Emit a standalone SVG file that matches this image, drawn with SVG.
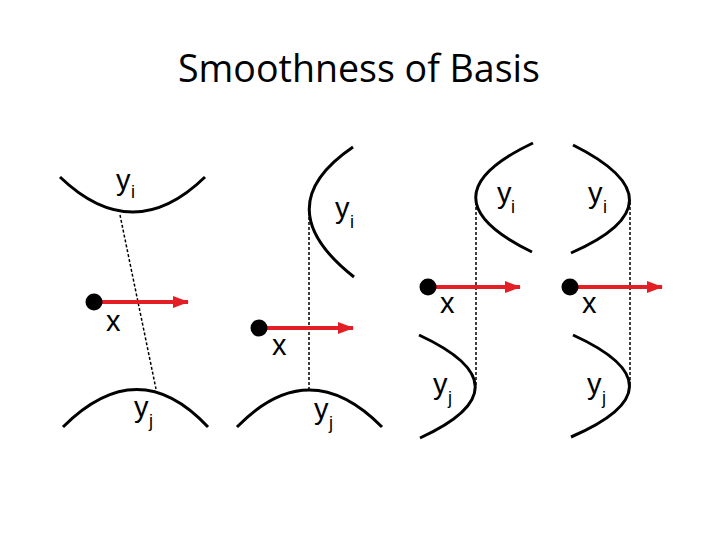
<svg xmlns="http://www.w3.org/2000/svg" width="720" height="540" viewBox="0 0 720 540">
<style>
.t{font-family:"Liberation Sans",Arial,sans-serif;font-size:29px;fill:#000}
.s{font-family:"Liberation Sans",Arial,sans-serif;font-size:18px;fill:#000}
.title{font-family:"Open Sans","Liberation Sans",sans-serif;font-size:38px;fill:#000}
.curve{fill:none;stroke:#000;stroke-width:3}
.dot{stroke:#000;stroke-width:1.5;stroke-dasharray:3 2;fill:none}
.arr{stroke:#e31e24;stroke-width:4;fill:none}
</style>
<defs>
<marker id="ah" markerWidth="16" markerHeight="14" refX="15" refY="7" orient="auto" markerUnits="userSpaceOnUse">
<path d="M0,1 L16,7 L0,13 Z" fill="#e31e24"/>
</marker>
</defs>
<rect width="720" height="540" fill="#fff"/>
<text class="title" x="359" y="82" text-anchor="middle" textLength="362" lengthAdjust="spacingAndGlyphs">Smoothness of Basis</text>

<g id="connectors">
<line class="dot" x1="120" y1="215" x2="156" y2="389"/>
<line class="dot" x1="309" y1="207" x2="309" y2="390"/>
<line class="dot" x1="476" y1="197" x2="476" y2="387"/>
<line class="dot" x1="630" y1="202" x2="630" y2="387"/>
<line class="arr" x1="94" y1="302" x2="188" y2="302" marker-end="url(#ah)"/>
<line class="arr" x1="259" y1="328" x2="353" y2="328" marker-end="url(#ah)"/>
<line class="arr" x1="428" y1="287" x2="520" y2="287" marker-end="url(#ah)"/>
<line class="arr" x1="570" y1="287" x2="662" y2="287" marker-end="url(#ah)"/>
</g>

<g id="p1-yi">
<path class="curve" d="M60,177 Q133,247 205,177"/>
<text class="t" x="116" y="190">y</text><text class="s" x="131" y="198">i</text>
</g>
<g id="p1-x">
<circle cx="94" cy="302" r="8.5" fill="#000"/>
<text class="t" x="106" y="331">x</text>
</g>
<g id="p1-yj">
<path class="curve" d="M63,427 Q138,352 208,427"/>
<text class="t" x="134" y="417">y</text><text class="s" x="149" y="427">j</text>
</g>

<g id="p2-yi">
<path class="curve" d="M353,147 Q265,207 354,277"/>
<text class="t" x="335" y="218">y</text><text class="s" x="350" y="228">i</text>
</g>
<g id="p2-x">
<circle cx="259" cy="328" r="8.5" fill="#000"/>
<text class="t" x="272" y="355">x</text>
</g>
<g id="p2-yj">
<path class="curve" d="M237,427 Q309,353 382,427"/>
<text class="t" x="314" y="419">y</text><text class="s" x="329" y="429">j</text>
</g>

<g id="p3-yi">
<path class="curve" d="M533,143 Q419,197 532,252"/>
<text class="t" x="497" y="203">y</text><text class="s" x="511" y="213">i</text>
</g>
<g id="p3-x">
<circle cx="428" cy="287" r="8.5" fill="#000"/>
<text class="t" x="440" y="313">x</text>
</g>
<g id="p3-yj">
<path class="curve" d="M419,335 Q531,387 420,438"/>
<text class="t" x="433" y="394">y</text><text class="s" x="448" y="404">j</text>
</g>

<g id="p4-yi">
<path class="curve" d="M573,145 Q687,202 571,253"/>
<text class="t" x="588" y="203">y</text><text class="s" x="603" y="213">i</text>
</g>
<g id="p4-x">
<circle cx="570" cy="287" r="8.5" fill="#000"/>
<text class="t" x="582" y="313">x</text>
</g>
<g id="p4-yj">
<path class="curve" d="M573,335 Q687,387 571,437"/>
<text class="t" x="587" y="394">y</text><text class="s" x="602" y="404">j</text>
</g>
</svg>
